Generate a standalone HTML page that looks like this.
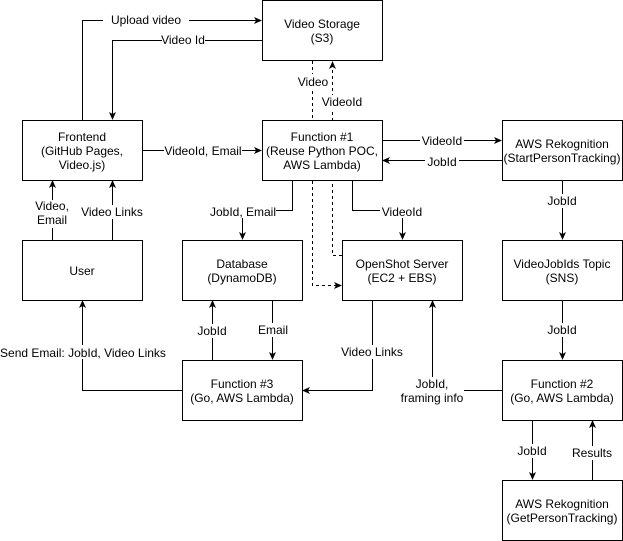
<!DOCTYPE html>
<html><head><meta charset="utf-8"><style>
html,body{margin:0;padding:0;background:#fff}
svg{display:block}
text{font-family:"Liberation Sans",Arial,sans-serif;font-size:12px;fill:#000}
</style></head><body>
<svg width="623" height="541" viewBox="0 0 623 541" xmlns="http://www.w3.org/2000/svg">
<defs><marker id="a" markerWidth="8" markerHeight="8" refX="7" refY="4" orient="auto" markerUnits="userSpaceOnUse"><path d="M0,0.5 L8,4 L0,7.5 L2,4 Z" fill="#000"/></marker></defs>
<g fill="none" stroke="#000" stroke-width="1">
<path d="M82.5,120 V20.5 H261" marker-end="url(#a)"/>
<path d="M262,40.5 H112.5 V119" marker-end="url(#a)"/>
<path d="M312.5,61 V285.5 H341" stroke-dasharray="3,3" marker-end="url(#a)"/>
<path d="M342,255.5 H332.5 V62" stroke-dasharray="3,3" marker-end="url(#a)"/>
<path d="M142,150.5 H261" marker-end="url(#a)"/>
<path d="M382,140.5 H501" marker-end="url(#a)"/>
<path d="M502,160.5 H383" marker-end="url(#a)"/>
<path d="M292.5,180 V210.5 H242.5 V239" marker-end="url(#a)"/>
<path d="M352.5,180 V210.5 H402.5 V239" marker-end="url(#a)"/>
<path d="M52.5,240 V181" marker-end="url(#a)"/>
<path d="M112.5,240 V181" marker-end="url(#a)"/>
<path d="M182,390.5 H82.5 V301" marker-end="url(#a)"/>
<path d="M212.5,360 V301" marker-end="url(#a)"/>
<path d="M272.5,300 V359" marker-end="url(#a)"/>
<path d="M372.5,300 V390.5 H303" marker-end="url(#a)"/>
<path d="M502,390.5 H432.5 V301" marker-end="url(#a)"/>
<path d="M562.5,180 V239" marker-end="url(#a)"/>
<path d="M562.5,300 V359" marker-end="url(#a)"/>
<path d="M532.5,420 V479" marker-end="url(#a)"/>
<path d="M592.5,480 V421" marker-end="url(#a)"/>
</g>
<g fill="#fff" stroke="#000" stroke-width="1">
<rect x="262.5" y="0.5" width="120" height="60"/>
<rect x="22.5" y="120.5" width="120" height="60"/>
<rect x="262.5" y="120.5" width="120" height="60"/>
<rect x="502.5" y="120.5" width="120" height="60"/>
<rect x="22.5" y="240.5" width="120" height="60"/>
<rect x="182.5" y="240.5" width="120" height="60"/>
<rect x="342.5" y="240.5" width="120" height="60"/>
<rect x="502.5" y="240.5" width="120" height="60"/>
<rect x="182.5" y="360.5" width="120" height="60"/>
<rect x="502.5" y="360.5" width="120" height="60"/>
<rect x="502.5" y="480.5" width="120" height="60"/>
</g>
<g fill="#fff">
<rect x="103" y="13" width="86" height="14"/>
<rect x="162" y="33" width="43" height="14"/>
<rect x="298" y="74" width="30" height="14"/>
<rect x="320" y="95" width="44" height="14"/>
<rect x="164" y="143" width="78" height="14"/>
<rect x="420" y="133" width="44" height="14"/>
<rect x="425" y="154" width="34" height="14"/>
<rect x="209" y="204" width="67" height="14"/>
<rect x="380" y="204" width="44" height="14"/>
<rect x="35" y="200" width="34" height="28"/>
<rect x="80" y="205" width="64" height="14"/>
<rect x="0" y="345" width="166" height="14"/>
<rect x="196" y="324" width="32" height="14"/>
<rect x="258" y="323" width="30" height="14"/>
<rect x="340" y="345" width="64" height="14"/>
<rect x="400" y="377" width="64" height="28"/>
<rect x="545" y="194" width="34" height="14"/>
<rect x="545" y="323" width="34" height="14"/>
<rect x="515" y="444" width="34" height="14"/>
<rect x="570" y="446" width="44" height="14"/>
</g>
<g text-anchor="middle">
<text x="322" y="28">Video Storage</text><text x="322" y="42">(S3)</text>
<text x="82" y="141">Frontend</text><text x="82" y="155">(GitHub Pages,</text><text x="82" y="169">Video.js)</text>
<text x="322" y="141">Function #1</text><text x="322" y="155">(Reuse Python POC,</text><text x="322" y="169">AWS Lambda)</text>
<text x="562" y="148">AWS Rekognition</text><text x="562" y="162">(StartPersonTracking)</text>
<text x="82" y="275">User</text>
<text x="242" y="268">Database</text><text x="242" y="282">(DynamoDB)</text>
<text x="402" y="268">OpenShot Server</text><text x="402" y="282">(EC2 + EBS)</text>
<text x="562" y="268">VideoJobIds Topic</text><text x="562" y="282">(SNS)</text>
<text x="242" y="388">Function #3</text><text x="242" y="402">(Go, AWS Lambda)</text>
<text x="562" y="388">Function #2</text><text x="562" y="402">(Go, AWS Lambda)</text>
<text x="562" y="508">AWS Rekognition</text><text x="562" y="522">(GetPersonTracking)</text>
<text x="146" y="24">Upload video</text>
<text x="183" y="44">Video Id</text>
<text x="313" y="86">Video</text>
<text x="342" y="106">VideoId</text>
<text x="203" y="155">VideoId, Email</text>
<text x="442" y="145">VideoId</text>
<text x="442" y="166">JobId</text>
<text x="243" y="216">JobId, Email</text>
<text x="402" y="216">VideoId</text>
<text x="52" y="210">Video,</text><text x="52" y="224">Email</text>
<text x="112" y="216">Video Links</text>
<text x="83" y="357">Send Email: JobId, Video Links</text>
<text x="212" y="335">JobId</text>
<text x="273" y="334">Email</text>
<text x="372" y="356">Video Links</text>
<text x="432" y="388">JobId,</text><text x="432" y="402">framing info</text>
<text x="562" y="205">JobId</text>
<text x="562" y="334">JobId</text>
<text x="532" y="455">JobId</text>
<text x="592" y="457">Results</text>
</g>
</svg>
</body></html>
